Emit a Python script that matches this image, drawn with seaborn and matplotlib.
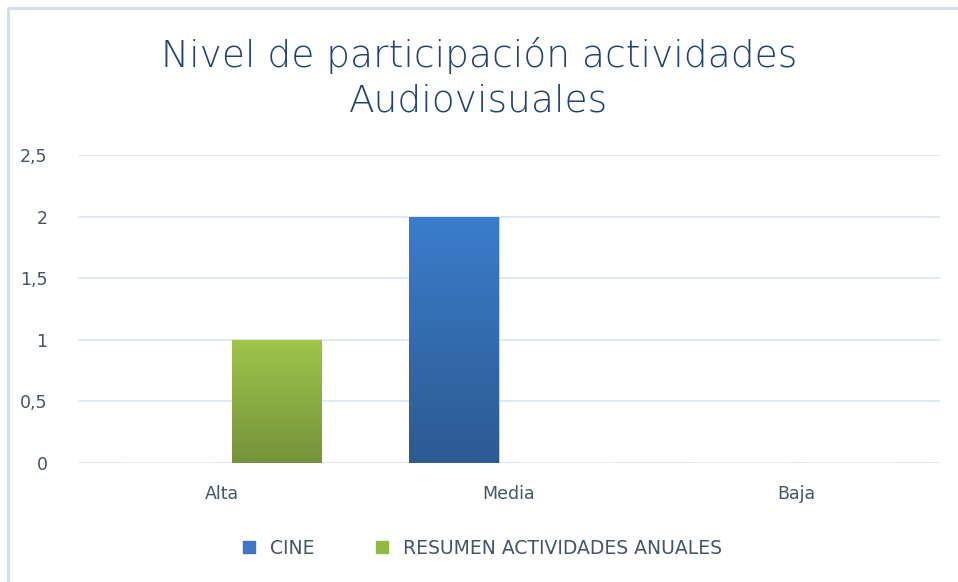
import numpy as np
import pandas as pd
import matplotlib
matplotlib.use("Agg")
import matplotlib.pyplot as plt
import seaborn as sns
from matplotlib.lines import Line2D
from matplotlib.ticker import FuncFormatter

# data
categorias = ["Alta", "Media", "Baja"]
series = ["CINE", "RESUMEN ACTIVIDADES ANUALES"]
cine = [0, 2, 0]
resumen = [1, 0, 0]

df = pd.DataFrame({
    "nivel": categorias * 2,
    "serie": [series[0]] * 3 + [series[1]] * 3,
    "valor": cine + resumen,
})

colores = {"CINE": "#3a78c4", "RESUMEN ACTIVIDADES ANUALES": "#93b945"}
grad = {"CINE": ("#3b7dcb", "#2c5a93"), "RESUMEN ACTIVIDADES ANUALES": ("#9fc54b", "#74933a")}
texto = "#44546a"

sns.set_style("white")
plt.rcParams['font.family'] = ['DejaVu Sans']

fig = plt.figure(figsize=(9.58, 5.82), dpi=100)
ax = fig.add_axes([78/958, 1 - 463/582, (940-78)/958, (463-155)/582])

sns.barplot(data=df, x="nivel", y="valor", hue="serie", order=categorias,
            hue_order=series, palette=colores, width=0.767, gap=0.19,
            saturation=1, legend=False, ax=ax)

# gradient fill for bars (left bar in each group = CINE)
for bar in ax.patches:
    h = bar.get_height()
    if h <= 0:
        continue
    xc = bar.get_x() + bar.get_width() / 2
    nombre = series[0] if xc < round(xc) else series[1]
    top, bot = [np.array(matplotlib.colors.to_rgb(v)) for v in grad[nombre]]
    t = np.linspace(0, 1, 100)[:, None]
    img = (top * (1 - t) + bot * t)[:, None, :]
    x0 = bar.get_x()
    im = ax.imshow(img, extent=[x0, x0 + bar.get_width(), 0, h], aspect="auto",
                   origin="upper", zorder=3)
    im.set_clip_path(bar)
    bar.set_edgecolor("#c8d4e4")
    bar.set_linewidth(0.6)

ax.set_xlim(-0.5, 2.5)
ax.set_ylim(0, 2.5)
ax.set_yticks([0, 0.5, 1, 1.5, 2, 2.5])
ax.yaxis.set_major_formatter(FuncFormatter(lambda v, p: f"{v:g}".replace(".", ",")))
ax.grid(axis="y", color="#dce6f2", linewidth=1.2)
ax.set_axisbelow(True)
for s in ax.spines.values():
    s.set_visible(False)
ax.tick_params(axis="both", length=0, labelsize=12.5, colors=texto)
ax.tick_params(axis="y", pad=22)
ax.tick_params(axis="x", pad=16)
ax.set_xlabel("")
ax.set_ylabel("")

fig.text(0.5, 1 - 55/582, "Nivel de participación actividades", ha="center", va="center",
         fontsize=27, color="#1f4275", fontweight="light")
fig.text(0.5, 1 - 101/582, "Audiovisuales", ha="center", va="center",
         fontsize=27, color="#1f4275", fontweight="light")

handles = [Line2D([0], [0], marker="s", linestyle="", markersize=9,
                  markerfacecolor=colores[s], markeredgecolor=colores[s]) for s in series]
fig.legend(handles, series, loc="center", bbox_to_anchor=(0.497, 1 - 548/582), ncol=2,
           frameon=False, fontsize=13.5, labelcolor=texto, handletextpad=0.1,
           columnspacing=2.6)

# frame of the chart area
fig.add_artist(Line2D([8/958, 8/958], [0, 1 - 8/582], transform=fig.transFigure,
                      color="#cfdcec", linewidth=2))
fig.add_artist(Line2D([8/958, 1], [1 - 8/582, 1 - 8/582], transform=fig.transFigure,
                      color="#cfdcec", linewidth=2))

fig.savefig("out.png", dpi=100)
